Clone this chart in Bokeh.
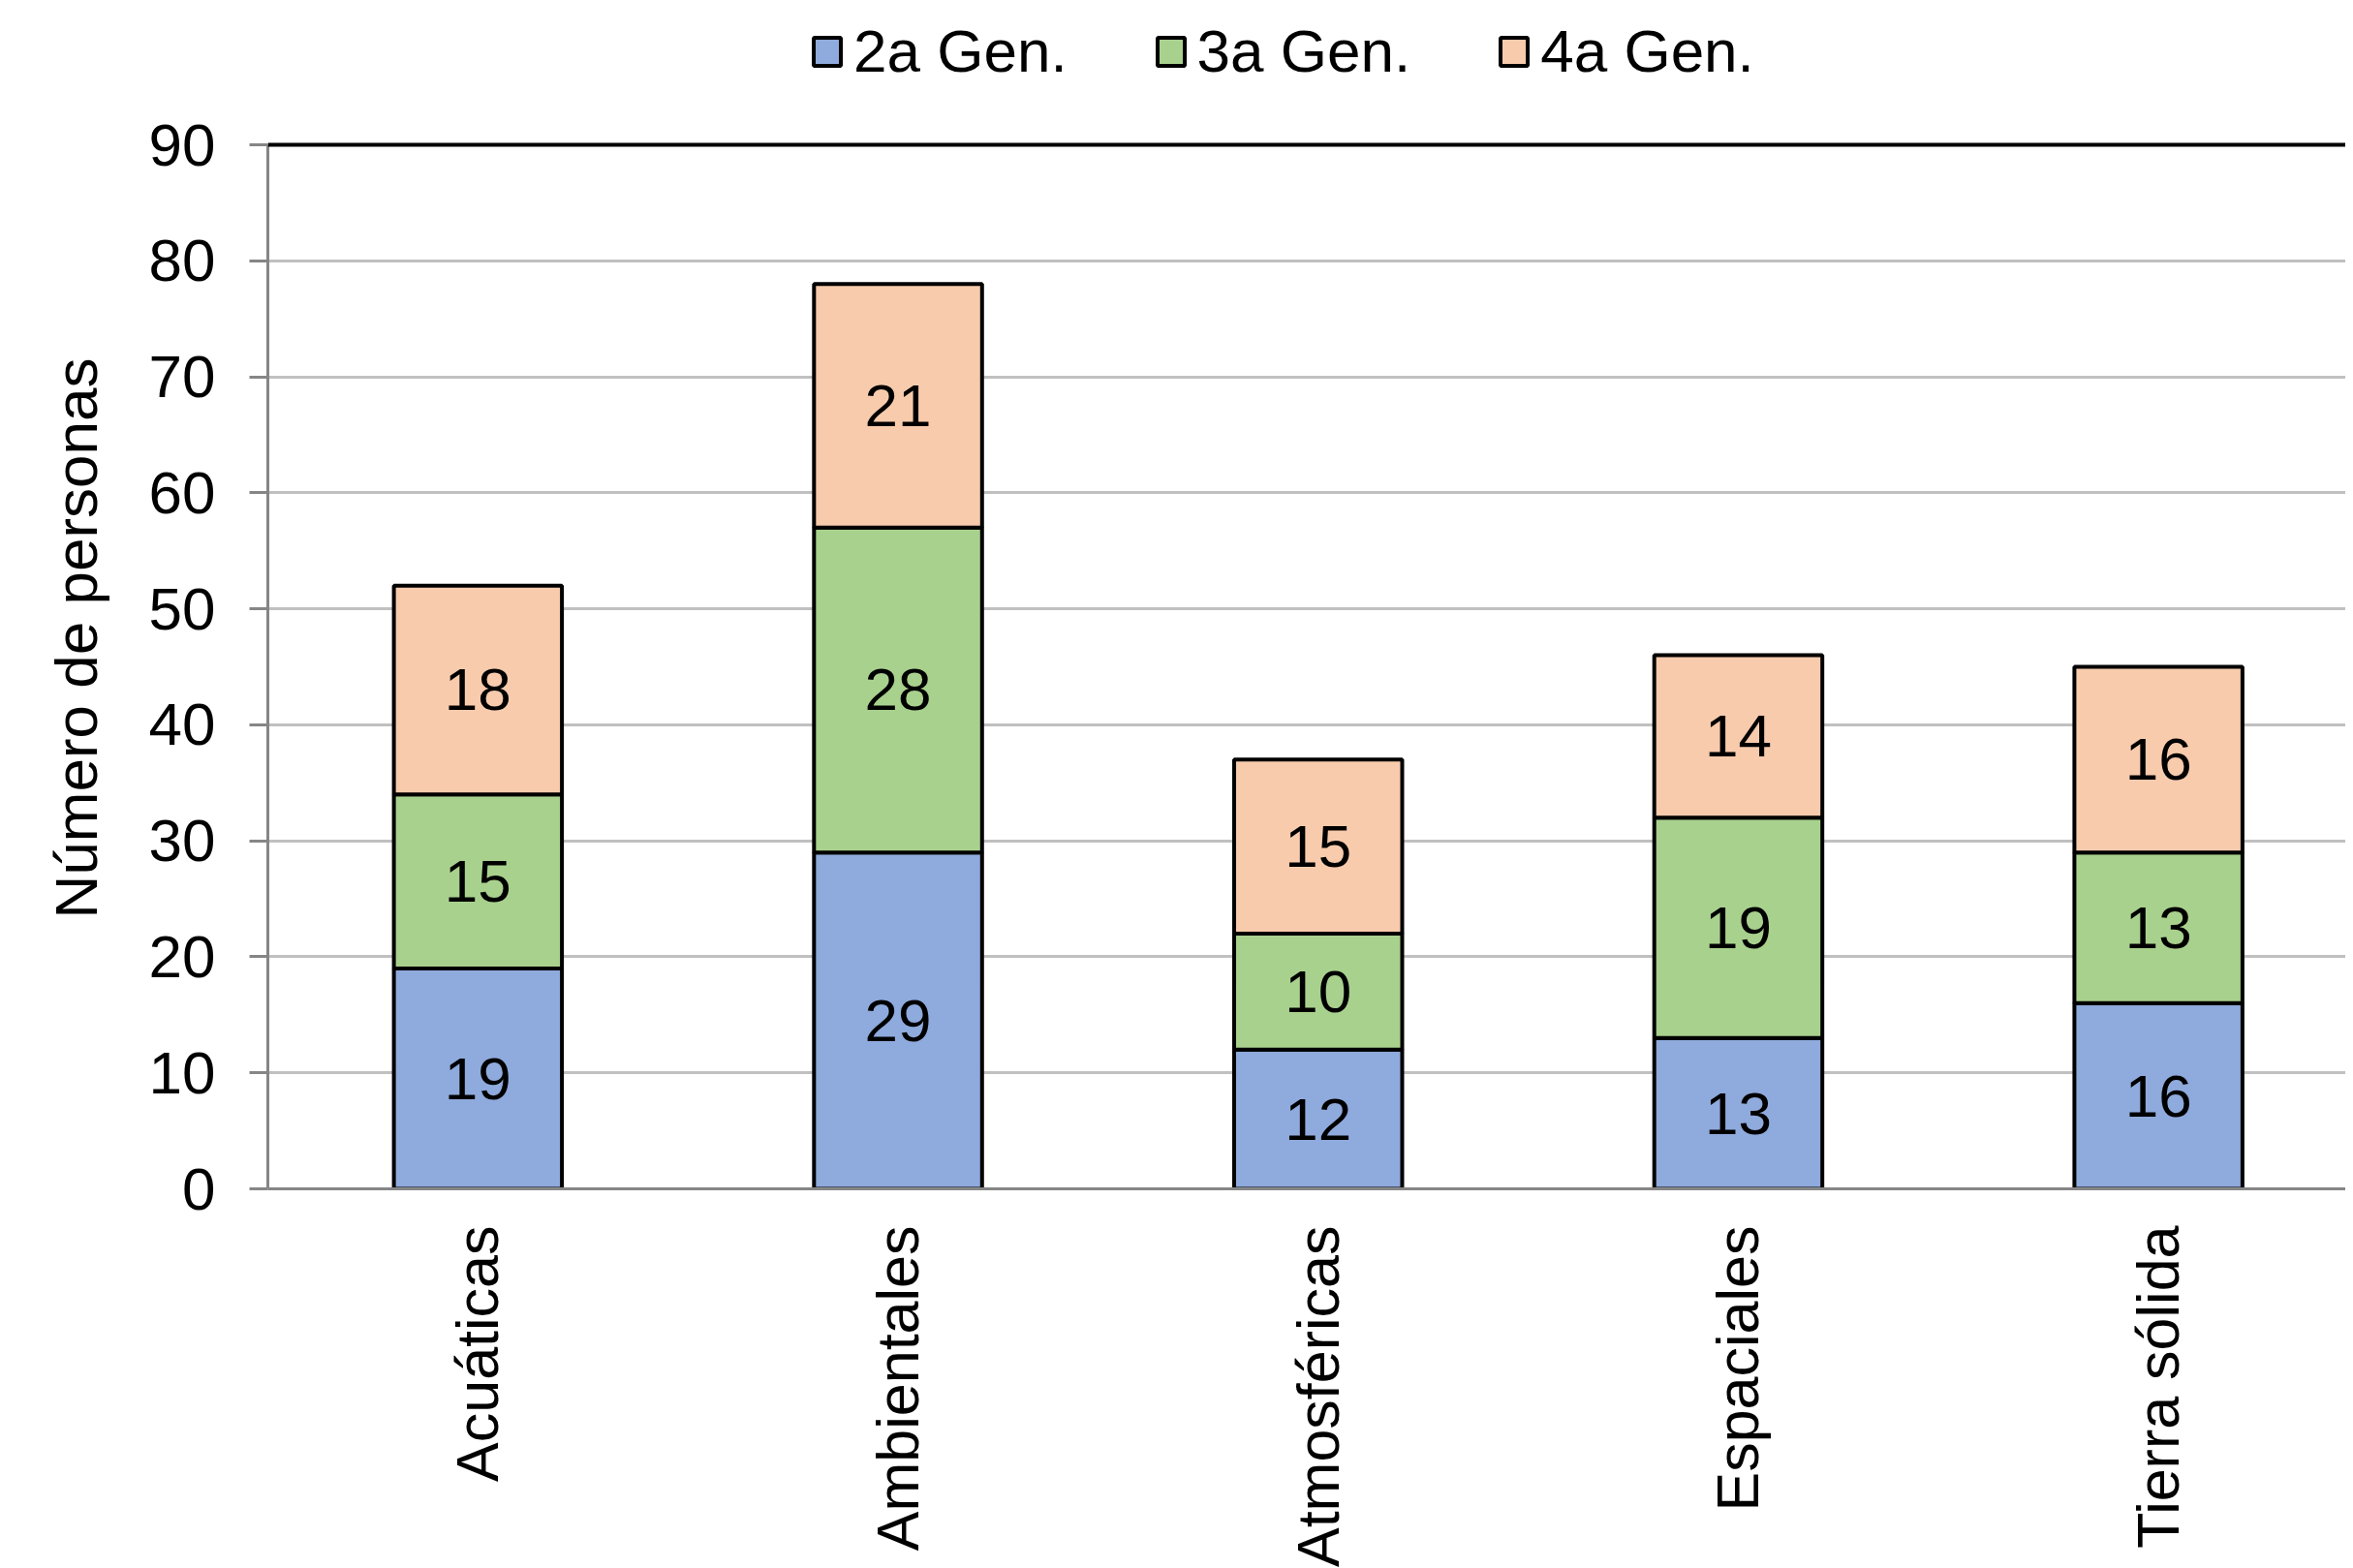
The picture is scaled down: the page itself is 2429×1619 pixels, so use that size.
import math
from bokeh.plotting import figure
from bokeh.models import ColumnDataSource, Range1d, FixedTicker, Span, Legend, LegendItem, Title
from bokeh.core.properties import value
from bokeh.embed import file_html
from bokeh.resources import INLINE

categories = ["Acuáticas", "Ambientales", "Atmosféricas", "Espaciales", "Tierra sólida"]
series_names = ["2a Gen.", "3a Gen.", "4a Gen."]
gen2 = [19, 29, 12, 13, 16]
gen3 = [15, 28, 10, 19, 13]
gen4 = [18, 21, 15, 14, 16]
y_ticks = [0, 10, 20, 30, 40, 50, 60, 70, 80, 90]
colors = ["#8FAADC", "#A9D18E", "#F8CBAD"]
y_title = "Número de personas"

FONT = "Liberation Sans"
FS = "62px"

# layout (screen px)
LEFT = 276          # y axis position
BOTTOM = 1227       # y = 0 position (frame spans from canvas top to here)
TOP90 = 149         # y = 90 position
FRAME_W = 2421 - LEFT
CAT_W = 433.7       # px per category

xpos = [i + 0.5 for i in range(len(categories))]
keys = ["g2", "g3", "g4"]
series = [gen2, gen3, gen4]
data = dict(x=xpos, cat=categories)
for k, s in zip(keys, series):
    data[k] = s
source = ColumnDataSource(data)

y_max = y_ticks[-1]
p = figure(frame_width=FRAME_W, frame_height=BOTTOM,
           output_backend="svg", toolbar_location=None,
           x_range=Range1d(0, FRAME_W / CAT_W),
           y_range=Range1d(0, y_max * BOTTOM / (BOTTOM - TOP90)),
           min_border_left=LEFT, min_border_top=0,
           min_border_right=0, min_border_bottom=0)

renderers = p.vbar_stack(keys, x="x", width=0.4, source=source,
                         fill_color=colors, line_color="black", line_width=4)

# value labels
lx, ly, lt = [], [], []
bottoms = [0] * len(categories)
for s in series:
    for i, v in enumerate(s):
        lx.append(xpos[i])
        ly.append(bottoms[i] + v / 2)
        lt.append(str(v))
        bottoms[i] += v
p.text(x=lx, y=ly, text=lt, text_align="center", text_baseline="middle",
       text_font=value(FONT), text_font_size=FS, text_color="black")

# grid
p.xgrid.visible = False
p.ygrid.ticker = FixedTicker(ticks=y_ticks[1:-1])
p.ygrid.grid_line_color = "#C0C0C0"
p.ygrid.grid_line_width = 3
p.outline_line_color = None
p.add_layout(Span(location=y_max, dimension="width", line_color="black", line_width=4))

# y axis
ya = p.yaxis[0]
ya.ticker = FixedTicker(ticks=y_ticks)
ya.bounds = (0, y_max)
ya.axis_line_color = "#868686"
ya.axis_line_width = 3
ya.major_tick_line_color = "#868686"
ya.major_tick_line_width = 3
ya.major_tick_out = 19
ya.major_tick_in = 0
ya.minor_tick_line_color = None
ya.major_label_text_font = FONT
ya.major_label_text_font_size = FS
ya.major_label_text_color = "black"
ya.major_label_standoff = 35

# y axis title (side title, so it can be shifted along the axis)
p.add_layout(Title(text=y_title, align="left", offset=279, standoff=76,
                   text_font=FONT, text_font_size=FS, text_font_style="normal",
                   text_color="black"), "left")

# x axis
xa = p.xaxis[0]
xa.ticker = FixedTicker(ticks=xpos)
xa.major_label_overrides = {x: c for x, c in zip(xpos, categories)}
xa.major_label_orientation = math.pi / 2
xa.axis_line_color = "#868686"
xa.axis_line_width = 3
xa.major_tick_out = 0
xa.major_tick_in = 0
xa.minor_tick_line_color = None
xa.major_label_text_font = FONT
xa.major_label_text_font_size = "61px"
xa.major_label_text_color = "black"
xa.major_label_standoff = 38

legend = Legend(items=[LegendItem(label=n, renderers=[r]) for n, r in zip(series_names, renderers)],
                orientation="horizontal", location=(836 - LEFT, BOTTOM - 88),
                label_text_font=FONT, label_text_font_size=FS, label_text_color="black",
                glyph_width=35, glyph_height=36, label_standoff=10, spacing=89,
                padding=0, margin=0, border_line_alpha=0, background_fill_alpha=0)
p.add_layout(legend, "center")

open("out.html", "w").write(file_html(p, INLINE))
